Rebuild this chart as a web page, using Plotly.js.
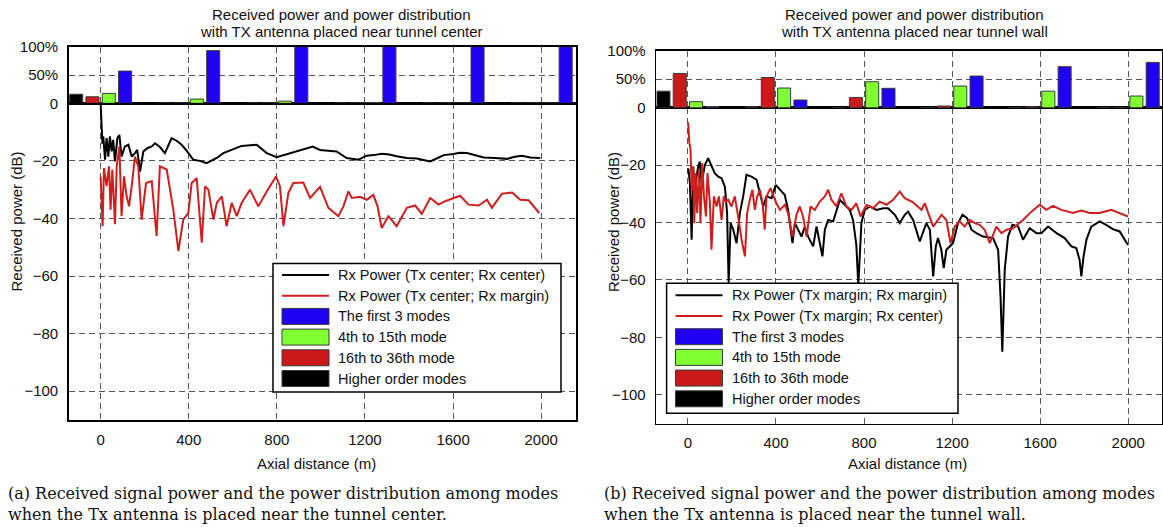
<!DOCTYPE html>
<html><head><meta charset="utf-8">
<script src="https://cdn.plot.ly/plotly-3.0.1.min.js"></script>
<style>html,body{margin:0;padding:0;background:#fff;} #chart{width:1163px;height:527px;}</style>
</head><body><div id="chart"></div>
<script>
// ---------- DATA ----------
const groupPositions = [0, 400, 800, 1200, 1600, 2000];
const modeNames = ['Higher order modes', '16th to 36th mode', '4th to 15th mode', 'The first 3 modes'];

// Panel (a): Tx near tunnel center (percent of power)
const aHigher   = [16, 0.4, 0.4, 0.4, 0.4, 0.4];
const aMode16   = [11.5, 0.5, 0.4, 0.4, 0.4, 0.4];
const aMode4    = [17.5, 7.5, 3.8, 1.5, 0.5, 0.4];
const aFirst3   = [57, 93, 100, 100, 100, 100];

// Panel (b): Tx near tunnel wall (percent of power)
const bHigher   = [29, 1.5, 0.4, 0.4, 0.4, 0.4];
const bMode16   = [60, 53, 18, 3, 1.5, 0.4];
const bMode4    = [10.5, 34.5, 45.5, 38, 29, 20.5];
const bFirst3   = [2, 13.5, 34, 55.5, 72, 79.5];

// Panel (a) received power: Tx center; Rx center
const aCenterX = [0, 3, 8, 12, 20, 27, 35, 42, 50, 57, 65, 76, 85, 95, 110, 126, 141, 156, 166, 179, 194, 212, 232, 247, 269, 292, 307, 322, 345, 368, 391, 421, 450, 481, 527, 557, 600, 640, 708, 754, 799, 840, 875, 920, 963, 996, 1034, 1071, 1117, 1170, 1208, 1240, 1276, 1310, 1344, 1390, 1435, 1470, 1496, 1530, 1557, 1602, 1630, 1663, 1700, 1739, 1790, 1845, 1880, 1913, 1950, 1996];
const aCenterDb = [0, -5, -14, -11.5, -19.6, -12.1, -18.5, -11.5, -16.7, -12.7, -20.2, -12.1, -11, -18.5, -15, -14.4, -18.5, -17.3, -16.2, -23.7, -16.7, -15.6, -15, -13.9, -15.2, -17.3, -14.5, -12.1, -13, -14.4, -16.5, -19.6, -20, -20.8, -19, -17.3, -16, -14.8, -14.4, -17.3, -18.7, -17.8, -17, -16, -15, -16.2, -16.4, -16.7, -19, -19.6, -18.2, -18, -17.5, -17.8, -18.4, -19, -19.2, -19.8, -20.2, -19, -18, -17.6, -17.2, -17.3, -18, -18.8, -19, -19.3, -18.6, -18.2, -18.8, -19];

// Panel (a) received power: Tx center; Rx margin
const aMarginX = [0, 9, 15, 27, 38, 45, 53, 65, 73, 85, 95, 106, 118, 129, 141, 156, 171, 186, 206, 232, 254, 269, 300, 330, 353, 375, 398, 413, 436, 459, 474, 489, 512, 527, 550, 572, 595, 618, 640, 678, 716, 754, 796, 814, 830, 852, 875, 920, 951, 996, 1034, 1079, 1102, 1125, 1140, 1178, 1208, 1238, 1257, 1276, 1306, 1344, 1390, 1428, 1458, 1496, 1534, 1564, 1632, 1670, 1716, 1754, 1776, 1822, 1868, 1905, 1943, 1991];
const aMarginDb = [-25.4, -42.7, -22.5, -28.8, -21.9, -37, -23, -42, -21.9, -15, -39.2, -25.4, -32.3, -35.8, -28.8, -18.5, -21.9, -40.4, -27.7, -27, -46.1, -21.9, -23, -37, -51.3, -40.4, -38.1, -27.7, -26, -48.4, -28.8, -30, -40.4, -34.6, -32.3, -42.7, -34.6, -39.2, -34.6, -30, -35.8, -30.6, -25.4, -28.8, -42.7, -31.2, -27.7, -27.5, -32.9, -29, -36.3, -39.2, -35.8, -30.6, -32.9, -32.5, -33.5, -31.8, -35.8, -43.3, -39.2, -42.7, -36.3, -35.5, -38.4, -32.9, -35.2, -34, -32.1, -35.2, -35.5, -33.5, -36.3, -31.4, -31, -33.5, -33.7, -38.1];

// Panel (b) received power: Tx margin; Rx margin
const bMarginX = [2, 9, 17, 24, 32, 39, 47, 54, 62, 70, 77, 92, 107, 122, 138, 153, 168, 178, 185, 194, 206, 221, 236, 251, 266, 289, 312, 330, 342, 357, 380, 399, 418, 440, 455, 475, 486, 501, 516, 531, 546, 569, 584, 611, 622, 637, 660, 690, 713, 735, 750, 765, 774, 788, 803, 826, 856, 887, 909, 940, 962, 985, 1000, 1023, 1053, 1083, 1099, 1114, 1126, 1136, 1151, 1162, 1174, 1189, 1204, 1227, 1247, 1268, 1288, 1310, 1341, 1386, 1409, 1420, 1428, 1439, 1454, 1474, 1500, 1522, 1552, 1583, 1605, 1636, 1674, 1711, 1742, 1764, 1779, 1787, 1797, 1810, 1832, 1870, 1900, 1930, 1961, 1999];
const bMarginDb = [-21.1, -26.3, -46, -20.5, -30.9, -24, -20.5, -18.8, -26.3, -22.8, -20, -17.6, -20.5, -22.8, -24, -24.6, -27.5, -36.7, -61, -40.2, -42.5, -47.2, -36.7, -30.9, -23.4, -24, -25.1, -30.9, -34.4, -30.9, -31.5, -26.9, -28.6, -30.4, -35.6, -47.2, -40.2, -42.5, -44.9, -41.4, -44.9, -48.3, -41.4, -51.8, -42.5, -39.1, -39.6, -32.1, -33.8, -35.6, -39.1, -47.8, -62, -40.2, -35.6, -34.4, -35.6, -35, -35, -37.3, -40.2, -37.3, -36.2, -39.1, -46.6, -40.2, -42.5, -58.8, -48.3, -45.4, -49.5, -55.9, -49.5, -48.3, -47.2, -40.2, -37.3, -38.5, -42.5, -43.7, -44.9, -45.4, -49.5, -66, -85, -56.4, -44.9, -40.8, -41.4, -46, -42, -43.7, -43.7, -41.4, -43.7, -45.4, -48.3, -48.9, -53, -58.8, -51.8, -46, -41.4, -39.6, -40.8, -42.3, -43.1, -47.8];

// Panel (b) received power: Tx margin; Rx center
const bCenterX = [0, 3, 6, 12, 17, 24, 29, 35, 42, 50, 57, 65, 73, 82, 89, 100, 107, 118, 130, 141, 153, 163, 172, 183, 198, 213, 228, 244, 259, 269, 281, 293, 304, 315, 327, 339, 349, 357, 375, 387, 402, 418, 440, 455, 475, 493, 508, 523, 539, 557, 576, 599, 622, 637, 652, 675, 697, 720, 743, 765, 784, 811, 841, 871, 902, 932, 962, 985, 1023, 1061, 1076, 1114, 1152, 1174, 1193, 1212, 1234, 1257, 1280, 1303, 1325, 1348, 1371, 1401, 1424, 1447, 1477, 1522, 1560, 1598, 1628, 1658, 1696, 1749, 1787, 1825, 1870, 1923, 1961, 1999];
const bCenterDb = [-5, -7, -12, -14.7, -28.6, -20.5, -40.2, -22.8, -36.7, -21.7, -40.2, -19.3, -30.9, -37.9, -22.8, -33.3, -49.5, -30.9, -34.4, -30.9, -39.1, -30.9, -32.7, -32.1, -34.4, -30.9, -37.9, -46, -51.8, -36.7, -32.1, -28.6, -35.6, -30.9, -28.6, -33.3, -42.5, -30.9, -28, -30.4, -33.3, -35.6, -33.8, -36.7, -44.9, -37.3, -34.4, -37.9, -44.9, -34.4, -35.6, -32.7, -30.9, -28.6, -32.1, -34.4, -29.8, -34.4, -35.6, -33.3, -37.9, -33.8, -35, -32.7, -33.8, -32.1, -29.2, -31.5, -33, -35.6, -33.3, -41.4, -37.3, -39.1, -47.2, -41.4, -39.6, -41.4, -39.1, -40.2, -40.8, -42.5, -47.2, -41.4, -43.7, -42.5, -42, -39.1, -36.2, -33.8, -35.6, -34.2, -35.6, -36.7, -35.8, -36.7, -36.7, -35.6, -36.7, -37.9];

// ---------- STYLE ----------
const W = 1163, H = 527;
const px = v => v / W;
const py = v => 1 - v / H;
const SANS = 'Liberation Sans, Arial, Helvetica, sans-serif';
const SERIF = 'DejaVu Serif, serif';
const modeColors = ['#000000', '#cc1a1a', '#80ff33', '#2000f0'];
const lineBlack = '#000000', lineRed = '#d01e1e';

const axBase = {
  showline: true, linecolor: '#000', linewidth: 1.5, mirror: true,
  showgrid: true, gridcolor: '#555', gridwidth: 1, griddash: '6px,4px',
  zeroline: false, ticks: '', fixedrange: true,
  tickfont: {family: SANS, size: 15, color: '#111'}
};
const ax = o => Object.assign({}, axBase, o);

const traces = [];
function addBars(x, y, sets) {
  sets.forEach((vals, i) => traces.push({
    type: 'bar', x: groupPositions, y: vals, xaxis: x, yaxis: y, name: modeNames[i],
    marker: {color: modeColors[i], line: {color: '#3a3a3a', width: 1}},
    showlegend: false, hoverinfo: 'skip'
  }));
}
addBars('x3', 'y3', [aHigher, aMode16, aMode4, aFirst3]);
addBars('x4', 'y4', [bHigher, bMode16, bMode4, bFirst3]);

traces.push({type: 'scatter', mode: 'lines', x: aCenterX, y: aCenterDb, xaxis: 'x', yaxis: 'y',
  line: {color: lineBlack, width: 2}, showlegend: false});
traces.push({type: 'scatter', mode: 'lines', x: aMarginX, y: aMarginDb, xaxis: 'x', yaxis: 'y',
  line: {color: lineRed, width: 2}, showlegend: false});
traces.push({type: 'scatter', mode: 'lines', x: bMarginX, y: bMarginDb, xaxis: 'x2', yaxis: 'y2',
  line: {color: lineBlack, width: 2}, showlegend: false});
traces.push({type: 'scatter', mode: 'lines', x: bCenterX, y: bCenterDb, xaxis: 'x2', yaxis: 'y2',
  line: {color: lineRed, width: 2}, showlegend: false});

const dbTicks = [-100, -80, -60, -40, -20];
const pctTicks = [0, 50, 100];
const pctText = ['0', '50%', '100%'];

const aXdom = [px(68.7), px(576)], bXdom = [px(656.2), px(1161.5)];
const aRange = [-145, 2158], bRange = [-144, 2151];

const layout = {
  width: W, height: H, margin: {l: 0, r: 0, t: 0, b: 0},
  paper_bgcolor: '#fff', plot_bgcolor: '#fff', showlegend: false,
  barmode: 'group', bargap: 0.26, bargroupgap: 0.2,
  font: {family: SANS, size: 14, color: '#111'},
  xaxis:  ax({domain: aXdom, range: aRange, anchor: 'y', tickvals: groupPositions, ticklabelstandoff: 5}),
  yaxis:  ax({domain: [py(420), py(103.3)], range: [-110, 0], anchor: 'x', tickvals: dbTicks, ticklabelstandoff: 6}),
  xaxis3: ax({domain: aXdom, range: aRange, anchor: 'y3', tickvals: groupPositions, showticklabels: false}),
  yaxis3: ax({domain: [py(103.3), py(46.7)], range: [0, 100], anchor: 'x3', tickvals: pctTicks, ticktext: pctText, ticklabelstandoff: 6}),
  xaxis2: ax({domain: bXdom, range: bRange, anchor: 'y2', tickvals: groupPositions, ticklabelstandoff: 5}),
  yaxis2: ax({domain: [py(423.5), py(107.7)], range: [-110, 0], anchor: 'x2', tickvals: dbTicks, ticklabelstandoff: 6}),
  xaxis4: ax({domain: bXdom, range: bRange, anchor: 'y4', tickvals: groupPositions, showticklabels: false}),
  yaxis4: ax({domain: [py(107.7), py(50.7)], range: [0, 100], anchor: 'x4', tickvals: pctTicks, ticktext: pctText, ticklabelstandoff: 6}),
  shapes: [], annotations: []
};

function txt(x, y, t, o) {
  layout.annotations.push(Object.assign({
    xref: 'paper', yref: 'paper', x: px(x), y: py(y), text: t, showarrow: false,
    xanchor: 'center', yanchor: 'middle', font: {family: SANS, size: 15, color: '#111'}
  }, o || {}));
}

// titles
txt(341, 15, 'Received power and power distribution');
txt(341, 32, 'with TX antenna placed near tunnel center');
txt(914, 15, 'Received power and power distribution');
txt(914, 32, 'with TX antenna placed near tunnel wall');
// axis titles
txt(316, 463, 'Axial distance (m)');
txt(907, 463, 'Axial distance (m)');
txt(15.5, 222, 'Received power (dB)', {textangle: -90});
txt(613, 222, 'Received power (dB)', {textangle: -90});
// captions
const capFont = {family: SERIF, size: 16, color: '#111'};
txt(6, 493, '(a) Received signal power and the power distribution among modes', {xanchor: 'left', font: capFont});
txt(6, 514, 'when the Tx antenna is placed near the tunnel center.', {xanchor: 'left', font: capFont});
txt(602, 493, '(b) Received signal power and the power distribution among modes', {xanchor: 'left', font: capFont});
txt(602, 514, 'when the Tx antenna is placed near the tunnel wall.', {xanchor: 'left', font: capFont});

// legends (drawn as boxes)
const legFont = {family: SANS, size: 14.5, color: '#111'};
function legend(box, sx0, sx1, tx, y0, labels) {
  layout.shapes.push({type: 'rect', xref: 'paper', yref: 'paper', layer: 'above',
    x0: px(box[0]), x1: px(box[1]), y0: py(box[3]), y1: py(box[2]),
    fillcolor: '#fff', line: {color: '#000', width: 1.5}});
  const kinds = [
    {k: 'line', c: lineBlack}, {k: 'line', c: lineRed},
    {k: 'rect', c: modeColors[3]}, {k: 'rect', c: modeColors[2]},
    {k: 'rect', c: modeColors[1]}, {k: 'rect', c: modeColors[0]}
  ];
  kinds.forEach((kd, i) => {
    const y = y0 + i * 20.7;
    if (kd.k === 'line') {
      layout.shapes.push({type: 'line', xref: 'paper', yref: 'paper', layer: 'above',
        x0: px(sx0), x1: px(sx1), y0: py(y), y1: py(y), line: {color: kd.c, width: 2}});
    } else {
      layout.shapes.push({type: 'rect', xref: 'paper', yref: 'paper', layer: 'above',
        x0: px(sx0), x1: px(sx1), y0: py(y + 8), y1: py(y - 8),
        fillcolor: kd.c, line: {color: '#3a3a3a', width: 1}});
    }
    txt(tx, y, labels[i], {xanchor: 'left', font: legFont});
  });
}
legend([273, 561, 263.5, 392], 282, 329, 336, 275,
  ['Rx Power (Tx center; Rx center)', 'Rx Power (Tx center; Rx margin)', 'The first 3 modes', '4th to 15th mode', '16th to 36th mode', 'Higher order modes']);
legend([666.6, 958, 283.3, 413.3], 675.5, 722.5, 729.8, 295.3,
  ['Rx Power (Tx margin; Rx margin)', 'Rx Power (Tx margin; Rx center)', 'The first 3 modes', '4th to 15th mode', '16th to 36th mode', 'Higher order modes']);

Plotly.newPlot('chart', traces, layout, {displayModeBar: false, staticPlot: true});
</script>
</body></html>
